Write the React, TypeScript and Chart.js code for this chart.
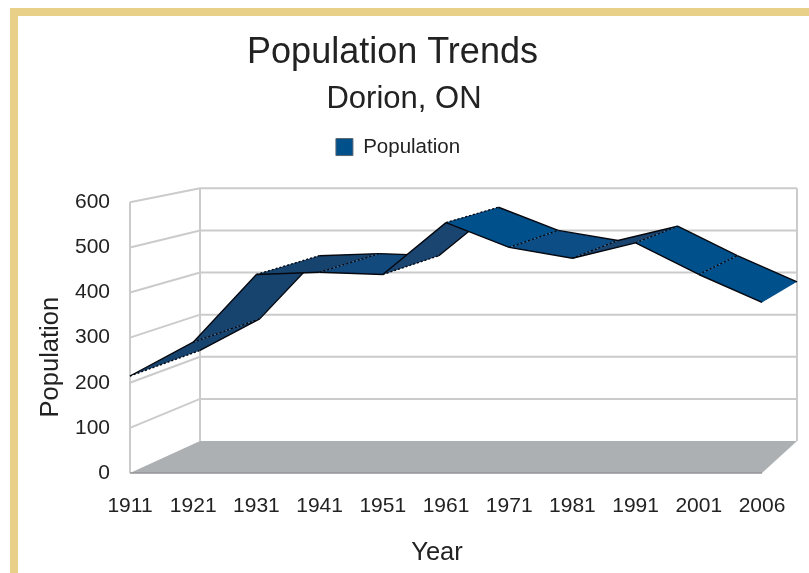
import React, { useEffect, useRef } from "react";
import { Chart, registerables } from "chart.js";

Chart.register(...registerables);

const years = ["1911", "1921", "1931", "1941", "1951", "1961", "1971", "1981", "1991", "2001", "2006"];
const population = [215, 290, 440, 445, 440, 555, 500, 476, 510, 440, 378];
const ribbonShades = [
  "#17436f", "#17436f", "#17436f", "#124a7e", "#1a4570",
  "#00508c", "#0d4d86", "#1a4570", "#00508c",  "#00508c",
];

const FONT = "'Liberation Sans', Arial, sans-serif";
const TEXT = "#222222";
const WALL = "#cbcbcb";
const FLOOR = "#adb0b2";
const FLOOR_EDGE = "#939597";
// Oblique depth of the 3D box, relative to the chart area corners.
const DEPTH = { left: 70, right: 35, bottom: 32, top: 14 };
// Offsets of boxes that Chart.js would otherwise centre on the page.
const NUDGE: Record<string, [number, number]> = {
  "Population Trends": [11.5, 3],
  "Dorion, ON": [23, 2],
};

const box3d = {
  id: "box3d",
  beforeDraw(chart: any) {
    if (chart.$nudged) return;
    chart.$nudged = true;
    const shift = (obj: any, name: string, dx: number, dy: number) => {
      const orig = obj[name];
      obj[name] = function (...args: any[]) {
        const c = chart.ctx;
        c.save();
        c.translate(dx, dy);
        orig.apply(this, args);
        c.restore();
      };
    };
    chart.boxes.forEach((b: any) => {
      const t = b.options?.text;
      if (typeof t === "string" && NUDGE[t]) shift(b, "draw", NUDGE[t][0], NUDGE[t][1]);
      if (b.legendItems) shift(b, "draw", 17, -35);
    });
    shift(chart.scales.x, "drawTitle", -9, 0);
    shift(chart.scales.y, "drawTitle", 0, 19.5);
  },
  beforeDatasetsDraw(chart: any) {
    const { ctx, chartArea: a, scales } = chart;
    const back = backMap(a);
    ctx.save();
    ctx.beginPath();
    ctx.moveTo(a.left, a.bottom);
    ctx.lineTo(a.right, a.bottom);
    ctx.lineTo(back.right, back.bottom);
    ctx.lineTo(back.left, back.bottom);
    ctx.closePath();
    ctx.fillStyle = FLOOR;
    ctx.fill();
    ctx.strokeStyle = WALL;
    ctx.lineWidth = 2;
    scales.y.ticks.forEach((t: any) => {
      const fy = scales.y.getPixelForValue(t.value);
      const by = back.y(fy);
      if (t.value !== 0) {
        ctx.beginPath();
        ctx.moveTo(a.left, fy);
        ctx.lineTo(back.left, by);
        ctx.lineTo(back.right, by);
        ctx.stroke();
      }
    });
    ctx.beginPath();
    ctx.moveTo(a.left, a.bottom);
    ctx.lineTo(a.left, a.top);
    ctx.moveTo(back.left, back.bottom);
    ctx.lineTo(back.left, back.top);
    ctx.moveTo(back.right, back.bottom);
    ctx.lineTo(back.right, back.top);
    ctx.stroke();
    ctx.strokeStyle = FLOOR_EDGE;
    ctx.lineWidth = 1.5;
    ctx.beginPath();
    ctx.moveTo(a.left, a.bottom);
    ctx.lineTo(a.right, a.bottom);
    ctx.stroke();
    ctx.restore();
  },
  afterDatasetsDraw(chart: any) {
    const { ctx, chartArea: a } = chart;
    const back = backMap(a);
    const pts = chart.getDatasetMeta(0).data.map((p: any) => ({
      fx: p.x,
      fy: p.y,
      bx: back.x(p.x),
      by: back.y(p.y),
    }));
    ctx.save();
    ctx.lineJoin = "round";
    for (let i = 0; i < pts.length - 1; i++) {
      const p = pts[i];
      const q = pts[i + 1];
      ctx.beginPath();
      ctx.moveTo(p.fx, p.fy);
      ctx.lineTo(q.fx, q.fy);
      ctx.lineTo(q.bx, q.by);
      ctx.lineTo(p.bx, p.by);
      ctx.closePath();
      ctx.fillStyle = ribbonShades[i];
      ctx.fill();
      ctx.strokeStyle = "#05080f";
      ctx.lineWidth = 1.4;
      ctx.setLineDash([]);
      ctx.beginPath();
      ctx.moveTo(p.fx, p.fy);
      ctx.lineTo(q.fx, q.fy);
      ctx.moveTo(p.bx, p.by);
      ctx.lineTo(q.bx, q.by);
      ctx.stroke();
      ctx.setLineDash([2, 2]);
      ctx.beginPath();
      ctx.moveTo(p.fx, p.fy);
      ctx.lineTo(p.bx, p.by);
      ctx.stroke();
    }
    ctx.restore();
  },
};

function backMap(a: any) {
  const left = a.left + DEPTH.left;
  const right = a.right + DEPTH.right;
  const bottom = a.bottom - DEPTH.bottom;
  const top = a.top - DEPTH.top;
  return {
    left,
    right,
    bottom,
    top,
    x: (fx: number) => left + ((fx - a.left) / (a.right - a.left)) * (right - left),
    y: (fy: number) => bottom - ((a.bottom - fy) / (a.bottom - a.top)) * (bottom - top),
  };
}

export default function App() {
  const ref = useRef<HTMLCanvasElement>(null);
  useEffect(() => {
    document.body.style.overflow = "hidden";
    const chart = new Chart(ref.current as HTMLCanvasElement, {
      type: "line",
      data: {
        labels: years,
        datasets: [
          {
            label: "Population",
            data: population,
            showLine: false,
            pointRadius: 0,
            backgroundColor: "#00508c",
            borderColor: "#5a6672",
            borderWidth: 1,
          },
        ],
      },
      options: {
        responsive: false,
        animation: false,
        events: [],
        layout: { padding: { left: 0, right: 47, top: 0, bottom: 0 } },
        plugins: {
          tooltip: { enabled: false },
          title: {
            display: true,
            text: "Population Trends",
            color: TEXT,
            font: { family: FONT, size: 36, weight: "normal" },
            padding: { top: 28.4, bottom: 6.8 },
          },
          subtitle: {
            display: true,
            text: "Dorion, ON",
            color: TEXT,
            font: { family: FONT, size: 31, weight: "normal" },
            padding: 0,
          },
          legend: {
            display: true,
            position: "top",
            labels: {
              color: TEXT,
              boxWidth: 17,
              boxHeight: 17,
              padding: 56.2,
              font: { family: FONT, size: 20.5 },
            },
          },
        },
        scales: {
          x: {
            type: "category",
            offset: false,
            grid: { display: false, drawTicks: false },
            border: { display: false },
            ticks: {
              color: TEXT,
              font: { family: FONT, size: 21 },
              padding: 21,
              autoSkip: false,
              maxRotation: 0,
              minRotation: 0,
            },
            title: {
              display: true,
              text: "Year",
              color: TEXT,
              font: { family: FONT, size: 25.5 },
              padding: { top: 0, bottom: 4.7 },
            },
            afterFit: (s: any) => {
              s.height = 100;
            },
          },
          y: {
            min: 0,
            max: 600,
            grid: { display: false, drawTicks: false },
            border: { display: false },
            ticks: {
              stepSize: 100,
              color: TEXT,
              font: { family: FONT, size: 21 },
              padding: 20,
            },
            title: {
              display: true,
              text: "Population",
              color: TEXT,
              font: { family: FONT, size: 25.5 },
              padding: { top: 35.7, bottom: 0 },
            },
            afterFit: (s: any) => {
              s.width = 130;
            },
          },
        },
      } as any,
      plugins: [box3d],
    });
    return () => chart.destroy();
  }, []);
  return (
    <>
      <div
        style={{
          position: "fixed",
          left: 10,
          top: 8,
          right: 0,
          bottom: 0,
          background: "#ffffff",
          borderLeft: "8px solid #e8d088",
          borderTop: "8px solid #e8d088",
        }}
      />
      <canvas
        ref={ref}
        width={809}
        height={573}
        style={{ position: "fixed", left: 0, top: 0, display: "block" }}
      />
    </>
  );
}
